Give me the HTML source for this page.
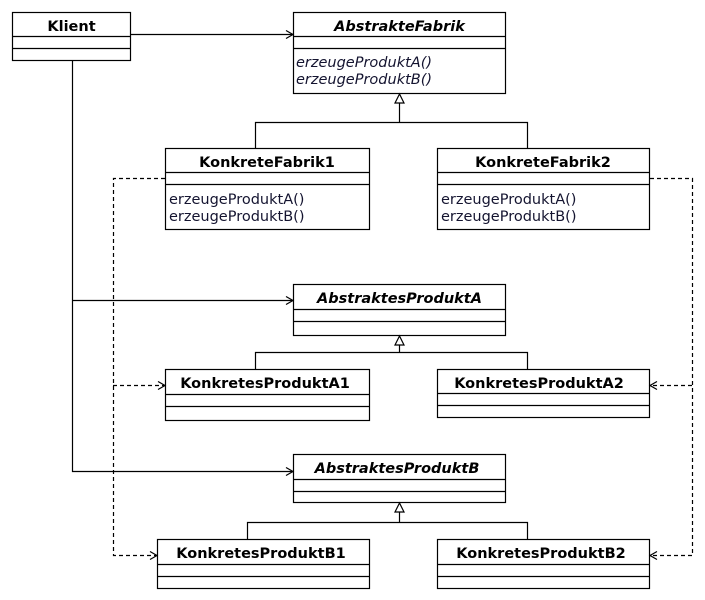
<!DOCTYPE html>
<html><head><meta charset="utf-8"><style>
html,body{margin:0;padding:0;background:#fff;}
svg{display:block;}
text{font-family:"DejaVu Sans","Liberation Sans",sans-serif;font-size:14.5px;}
.h{font-weight:bold;text-anchor:middle;fill:#000;}
.i{font-style:italic;}
.m{fill:#141430;}
</style></head><body>
<svg width="705" height="600" viewBox="0 0 705 600" xmlns="http://www.w3.org/2000/svg">
<g fill="none" stroke="#000" stroke-width="1.2">
<rect x="12.5" y="12.5" width="118" height="48"/><line x1="12" y1="36.5" x2="131" y2="36.5"/><line x1="12" y1="48.5" x2="131" y2="48.5"/>
<rect x="293.5" y="12.5" width="212" height="81"/><line x1="293" y1="36.5" x2="506" y2="36.5"/><line x1="293" y1="48.5" x2="506" y2="48.5"/>
<rect x="165.5" y="148.5" width="204" height="81"/><line x1="165" y1="172.5" x2="370" y2="172.5"/><line x1="165" y1="184.5" x2="370" y2="184.5"/>
<rect x="437.5" y="148.5" width="212" height="81"/><line x1="437" y1="172.5" x2="650" y2="172.5"/><line x1="437" y1="184.5" x2="650" y2="184.5"/>
<rect x="293.5" y="284.5" width="212" height="51"/><line x1="293" y1="309.5" x2="506" y2="309.5"/><line x1="293" y1="321.5" x2="506" y2="321.5"/>
<rect x="165.5" y="369.5" width="204" height="51"/><line x1="165" y1="394.5" x2="370" y2="394.5"/><line x1="165" y1="406.5" x2="370" y2="406.5"/>
<rect x="437.5" y="369.5" width="212" height="48"/><line x1="437" y1="393.5" x2="650" y2="393.5"/><line x1="437" y1="405.5" x2="650" y2="405.5"/>
<rect x="293.5" y="454.5" width="212" height="48"/><line x1="293" y1="479.5" x2="506" y2="479.5"/><line x1="293" y1="491.5" x2="506" y2="491.5"/>
<rect x="157.5" y="539.5" width="212" height="49"/><line x1="157" y1="564.5" x2="370" y2="564.5"/><line x1="157" y1="576.5" x2="370" y2="576.5"/>
<rect x="437.5" y="539.5" width="212" height="49"/><line x1="437" y1="564.5" x2="650" y2="564.5"/><line x1="437" y1="576.5" x2="650" y2="576.5"/>
<line x1="131" y1="34.5" x2="293" y2="34.5"/><polyline points="286,30.5 293,34.5 286,38.5"/>
<polyline points="72.5,60 72.5,471.5 293,471.5"/><line x1="72" y1="300.5" x2="293" y2="300.5"/>
<polyline points="286,296.5 293,300.5 286,304.5"/><polyline points="286,467.5 293,471.5 286,475.5"/>
<polygon points="399.5,94 395,103 404,103"/><polyline points="399.5,103 399.5,122.5"/><polyline points="255.5,148 255.5,122.5 527.5,122.5 527.5,148"/>
<polygon points="399.5,336 395,345 404,345"/><polyline points="399.5,345 399.5,352.5"/><polyline points="255.5,369 255.5,352.5 527.5,352.5 527.5,369"/>
<polygon points="399.5,503 395,512 404,512"/><polyline points="399.5,512 399.5,522.5"/><polyline points="247.5,539 247.5,522.5 527.5,522.5 527.5,539"/>
<g stroke-dasharray="4,3">
<polyline points="165,178.5 113.5,178.5 113.5,555.5 157,555.5"/><line x1="113" y1="385.5" x2="165" y2="385.5"/>
<polyline points="650,178.5 692.5,178.5 692.5,555.5 650,555.5"/><line x1="692" y1="385.5" x2="650" y2="385.5"/>
</g>
<polyline points="158,381.5 165,385.5 158,389.5"/><polyline points="150,551.5 157,555.5 150,559.5"/>
<polyline points="657,381.5 650,385.5 657,389.5"/><polyline points="657,551.5 650,555.5 657,559.5"/>
</g>
<text class="h" x="71.5" y="31">Klient</text>
<text class="h i" x="399.5" y="31">AbstrakteFabrik</text>
<text class="i m" x="296" y="67">erzeugeProduktA()</text>
<text class="i m" x="296" y="84">erzeugeProduktB()</text>
<text class="h" x="267" y="167">KonkreteFabrik1</text>
<text class="m" x="169" y="204">erzeugeProduktA()</text>
<text class="m" x="169" y="221">erzeugeProduktB()</text>
<text class="h" x="543" y="167">KonkreteFabrik2</text>
<text class="m" x="441" y="204">erzeugeProduktA()</text>
<text class="m" x="441" y="221">erzeugeProduktB()</text>
<text class="h i" x="399.5" y="303">AbstraktesProduktA</text>
<text class="h" x="265" y="388">KonkretesProduktA1</text>
<text class="h" x="539" y="388">KonkretesProduktA2</text>
<text class="h i" x="397" y="473">AbstraktesProduktB</text>
<text class="h" x="261" y="558">KonkretesProduktB1</text>
<text class="h" x="541" y="558">KonkretesProduktB2</text>
</svg>
</body></html>
